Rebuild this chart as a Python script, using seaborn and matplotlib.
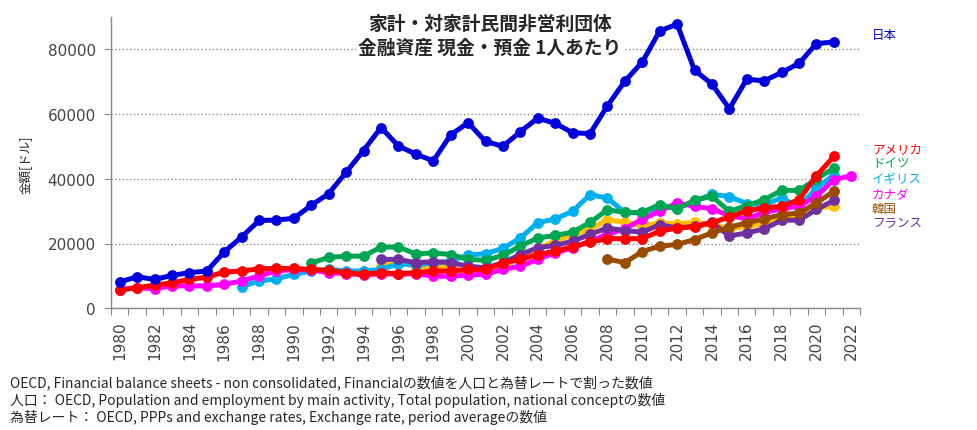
import numpy as np
import pandas as pd
import matplotlib
matplotlib.use("Agg")
import matplotlib.pyplot as plt
import seaborn as sns
from matplotlib.ticker import FixedLocator, NullFormatter

# ===== DATA (USD per person) =====
japan_start = 1980
japan = [8100, 9750, 8900, 10150, 11000, 11500, 17400, 22000, 27100, 27200,
         27800, 31800, 35400, 42000, 48700, 55800, 50100, 47600, 45500, 53500,
         57300, 51500, 50000, 54500, 58700, 57100, 54200, 53900, 62500, 70100,
         76000, 85600, 87700, 73500, 69200, 61600, 70700, 70200, 72800, 75600,
         81700, 82200]

usa_start = 1980
usa = [5600, 6400, 7100, 7900, 8900, 9600, 11200, 11500, 12200, 12300,
       12300, 12000, 11700, 11000, 10500, 11000, 10700, 11000, 11500, 11500,
       12000, 12000, 14000, 15100, 16600, 17600, 19000, 20400, 21500, 21500,
       21500, 23800, 24800, 25100, 26400, 28200, 30100, 31000, 31500, 33500,
       40900, 46900]

germany_start = 1991
germany = [14000, 15700, 16100, 16100, 18900, 18900, 16800, 17100, 16600, 15100,
           14800, 16300, 19200, 21700, 22500, 23500, 26500, 30400, 29600, 29600,
           32000, 30700, 33300, 34600, 29900, 31700, 33500, 36400, 36400, 39900,
           43300]

uk_start = 1987
uk = [6700, 8400, 9100, 10500, 11500, 12000, 11500, 11500, 12000, 13700,
      13500, 14000, 14500, 16500, 16800, 18500, 21700, 26400, 27600, 29900,
      35100, 34000, 29600, 29400, 31500, 31000, 33000, 35200, 34500, 32300,
      32000, 34000, 31300, 37100, 41200]

canada_start = 1980
canada = [5800, 6300, 6100, 6900, 6900, 6900, 7400, 8400, 10000, 11500,
          12000, 11800, 11000, 10700, 10300, 10700, 10500, 10700, 9900, 9900,
          10300, 10500, 12000, 13000, 15100, 17100, 18700, 20700, 22800, 24500,
          27500, 30000, 32500, 31500, 30700, 28600, 27600, 29600, 30700, 31500,
          34600, 39700, 40900]

korea_start = 2008
korea = [15200, 14100, 17500, 19200, 19700, 21200, 23300, 25000, 26400, 27600,
         28900, 29400, 32500, 36100]

france_start = 1995
france = [15100, 15100, 14100, 14400, 14100, 13000, 12500, 14000, 16600, 18700,
          19400, 20700, 22800, 24800, 24000, 23500, 25800, 24800, 25300, 26500,
          22300, 23300, 24500, 27200, 27200, 30500, 33300]

# yellow series has no label in the chart
other_start = 1995
other = [13000, 14500, 12700, 12700, 12700, 10700, 11000, 12500, 16000, 18500,
         20700, 22800, 24300, 27400, 26500, 25500, 26400, 26100, 26500, 26000,
         24500, 25300, 26100, 28200, 28600, 30700, 31700]

# drawing order = bottom to top
countries = ["その他", "イギリス", "カナダ", "ドイツ", "フランス", "韓国", "アメリカ", "日本"]
series = {
    "その他": (other_start, other),
    "イギリス": (uk_start, uk),
    "カナダ": (canada_start, canada),
    "ドイツ": (germany_start, germany),
    "フランス": (france_start, france),
    "韓国": (korea_start, korea),
    "アメリカ": (usa_start, usa),
    "日本": (japan_start, japan),
}
colors = {
    "その他": "#FFC000",
    "イギリス": "#00B0F0",
    "カナダ": "#FF00FF",
    "ドイツ": "#00A651",
    "フランス": "#7030A0",
    "韓国": "#994C00",
    "アメリカ": "#FF0000",
    "日本": "#0000DD",
}

rows = []
for name in countries:
    start, vals = series[name]
    for i, v in enumerate(vals):
        rows.append({"year": start + i, "value": v, "country": name})
df = pd.DataFrame(rows)

# ===== PLOT =====
sns.set_style("white")
plt.rcParams['font.family'] = ['Noto Sans CJK JP', 'DejaVu Sans']

fig = plt.figure(figsize=(9.78, 4.31), dpi=100)
ax = fig.add_axes([111 / 978, 1 - 309.3 / 431, 749 / 978, (309.3 - 17.7) / 431])

sns.lineplot(data=df, x="year", y="value", hue="country", hue_order=countries,
             palette=colors, marker="o", markersize=7.8, markeredgewidth=0,
             linewidth=3.6, legend=False, ax=ax)

ax.set_xlim(1979.5, 2022.5)
ax.set_ylim(0, 90000)
ax.set_yticks([0, 20000, 40000, 60000, 80000])
ax.set_yticklabels(["0", "20000", "40000", "60000", "80000"])
ax.yaxis.grid(True, color="#808080", linestyle=(0, (1, 2)), linewidth=0.9)
ax.xaxis.grid(False)

ax.xaxis.set_major_locator(FixedLocator(np.arange(1979.5, 2023, 1)))
ax.xaxis.set_major_formatter(NullFormatter())
ax.xaxis.set_minor_locator(FixedLocator(list(range(1980, 2023, 2))))
ax.set_xticklabels([str(y) for y in range(1980, 2023, 2)], minor=True, rotation=90)
ax.tick_params(axis="x", which="major", length=5, color="#888888", direction="out", bottom=True)
ax.tick_params(axis="x", which="minor", length=0, pad=9, labelsize=11,
               labelcolor="#444444", labelfontfamily="DejaVu Sans")
ax.tick_params(axis="y", length=5, color="#888888", direction="out", left=True, pad=6,
               labelsize=11, labelcolor="#444444", labelfontfamily="DejaVu Sans")
ax.set_xlabel("")
ax.set_ylabel("")

for s in ["top", "right"]:
    ax.spines[s].set_visible(False)
for s in ["left", "bottom"]:
    ax.spines[s].set_color("#888888")
    ax.spines[s].set_linewidth(1.0)

# title inside plot
fig.text(490 / 978, 1 - 36 / 431, "家計・対家計民間非営利団体\n金融資産 現金・預金 1人あたり",
         ha="center", va="center", fontsize=13.5, fontweight="bold", linespacing=1.3,
         bbox=dict(facecolor="white", edgecolor="none", pad=1))

# country labels at the right
label_pos = [("日本", 35), ("アメリカ", 150), ("ドイツ", 164), ("イギリス", 180),
             ("カナダ", 196), ("韓国", 210), ("フランス", 224)]
for name, ypx in label_pos:
    fig.text(872 / 978, 1 - ypx / 431, name, color=colors[name], fontsize=9,
             ha="left", va="center")

fig.text(25 / 978, 1 - 165 / 431, "金額[ドル]", rotation=90, ha="center", va="center",
         fontsize=9)

notes = ["OECD, Financial balance sheets - non consolidated, Financialの数値を人口と為替レートで割った数値",
         "人口： OECD, Population and employment by main activity, Total population, national conceptの数値",
         "為替レート： OECD, PPPs and exchange rates, Exchange rate, period averageの数値"]
for i, t in enumerate(notes):
    fig.text(10 / 978, 1 - (383 + i * 17) / 431, t, ha="left", va="center", fontsize=10)

plt.savefig("out.png", dpi=100)
plt.close()
